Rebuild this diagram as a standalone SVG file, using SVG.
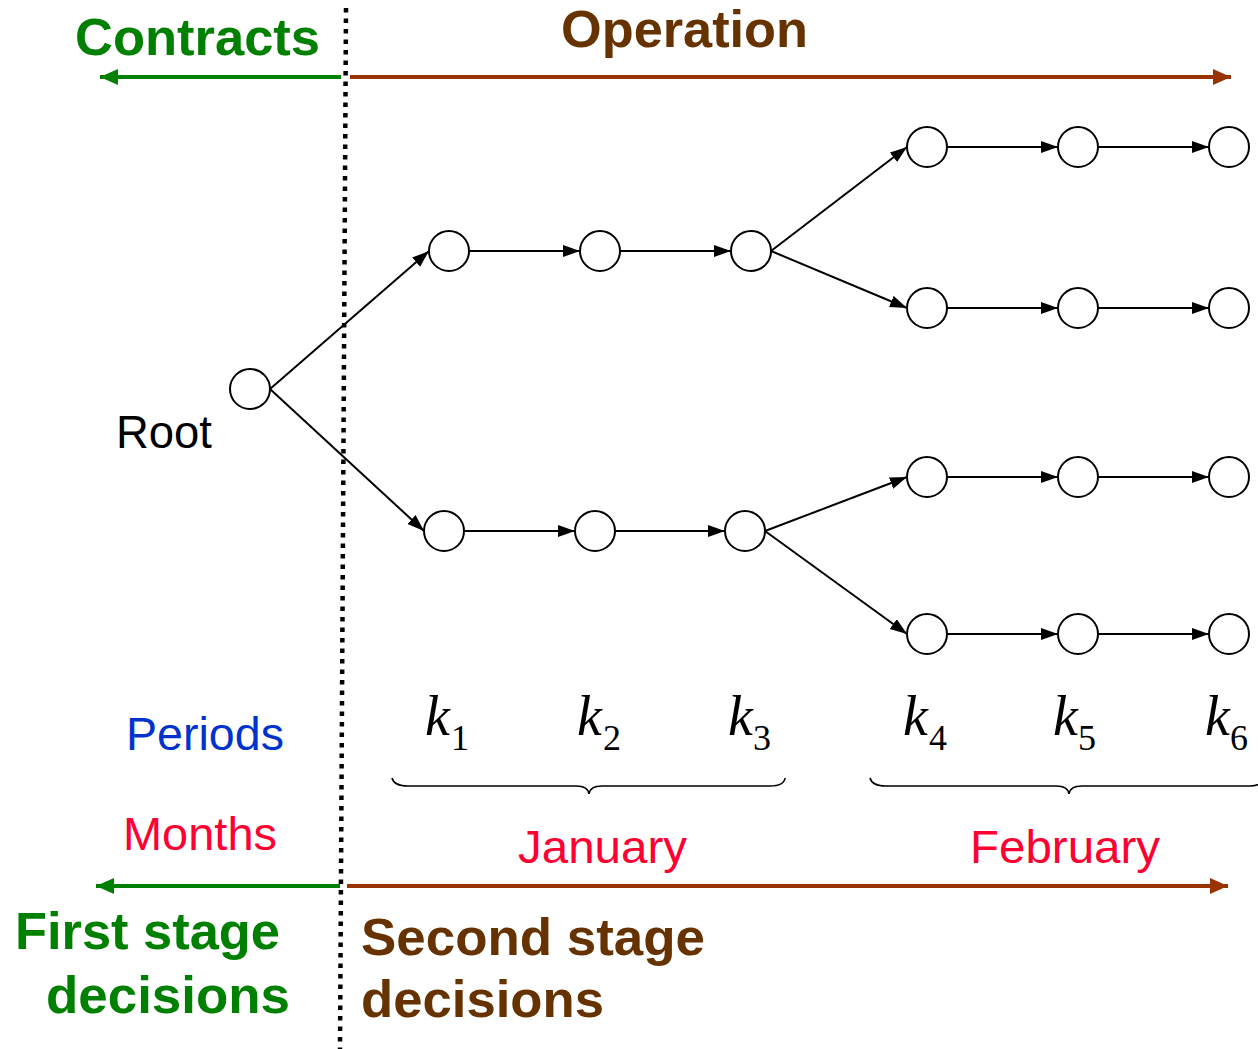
<svg xmlns="http://www.w3.org/2000/svg" width="1258" height="1049" viewBox="0 0 1258 1049">
<defs>
<style>
.node{fill:#fff;stroke:#000;stroke-width:2}
.edge{stroke:#000;stroke-width:2;fill:none;marker-end:url(#ah)}
.bold{font-family:"Liberation Sans",Arial,sans-serif;font-weight:bold;font-size:52px}
.reg{font-family:"Liberation Sans",Arial,sans-serif;font-size:46px}
.k{font-family:"Liberation Serif","Times New Roman",serif;font-style:italic;font-size:56px;fill:#000}
.sub{font-family:"Liberation Serif","Times New Roman",serif;font-size:36px;fill:#000}
.brace{fill:none;stroke:#000;stroke-width:1.6}
</style>
<marker id="ah" markerUnits="userSpaceOnUse" markerWidth="18" markerHeight="14" refX="17" refY="6" orient="auto">
<path d="M0,0 L17,6 L0,12 Z" fill="#000"/>
</marker>
<marker id="ahg" markerUnits="userSpaceOnUse" markerWidth="20" markerHeight="18" refX="18" refY="8" orient="auto">
<path d="M0,0 L18,8 L0,16 Z" fill="#008000"/>
</marker>
<marker id="ahb" markerUnits="userSpaceOnUse" markerWidth="20" markerHeight="18" refX="18" refY="8" orient="auto">
<path d="M0,0 L18,8 L0,16 Z" fill="#993300"/>
</marker>
</defs>
<rect width="1258" height="1049" fill="#fff"/>

<g id="axes">
<line x1="341" y1="77" x2="100" y2="77" stroke="#008000" stroke-width="4" marker-end="url(#ahg)"/>
<line x1="350" y1="77" x2="1231" y2="77" stroke="#993300" stroke-width="4" marker-end="url(#ahb)"/>
<line x1="340" y1="886" x2="96" y2="886" stroke="#008000" stroke-width="4" marker-end="url(#ahg)"/>
<line x1="347" y1="886" x2="1228" y2="886" stroke="#993300" stroke-width="4" marker-end="url(#ahb)"/>
<line x1="346" y1="8" x2="340" y2="1049" stroke="#000" stroke-width="4.5" stroke-dasharray="4.5 6"/>
</g>

<g id="connectors">
<line class="edge" x1="270" y1="389" x2="429" y2="251"/>
<line class="edge" x1="270" y1="389" x2="424" y2="531"/>
<line class="edge" x1="469" y1="251" x2="580" y2="251"/>
<line class="edge" x1="620" y1="251" x2="731" y2="251"/>
<line class="edge" x1="771" y1="251" x2="907" y2="147"/>
<line class="edge" x1="771" y1="251" x2="907" y2="308"/>
<line class="edge" x1="947" y1="147" x2="1058" y2="147"/>
<line class="edge" x1="1098" y1="147" x2="1209" y2="147"/>
<line class="edge" x1="947" y1="308" x2="1058" y2="308"/>
<line class="edge" x1="1098" y1="308" x2="1209" y2="308"/>
<line class="edge" x1="464" y1="531" x2="575" y2="531"/>
<line class="edge" x1="615" y1="531" x2="725" y2="531"/>
<line class="edge" x1="765" y1="531" x2="907" y2="477"/>
<line class="edge" x1="765" y1="531" x2="907" y2="634"/>
<line class="edge" x1="947" y1="477" x2="1058" y2="477"/>
<line class="edge" x1="1098" y1="477" x2="1209" y2="477"/>
<line class="edge" x1="947" y1="634" x2="1058" y2="634"/>
<line class="edge" x1="1098" y1="634" x2="1209" y2="634"/>
</g>

<g id="root"><circle class="node" cx="250" cy="389" r="20"/></g>
<g id="n1a"><circle class="node" cx="449" cy="251" r="20"/></g>
<g id="n2a"><circle class="node" cx="600" cy="251" r="20"/></g>
<g id="n3a"><circle class="node" cx="751" cy="251" r="20"/></g>
<g id="n1b"><circle class="node" cx="444" cy="531" r="20"/></g>
<g id="n2b"><circle class="node" cx="595" cy="531" r="20"/></g>
<g id="n3b"><circle class="node" cx="745" cy="531" r="20"/></g>
<g id="n4a"><circle class="node" cx="927" cy="147" r="20"/></g>
<g id="n5a"><circle class="node" cx="1078" cy="147" r="20"/></g>
<g id="n6a"><circle class="node" cx="1229" cy="147" r="20"/></g>
<g id="n4b"><circle class="node" cx="927" cy="308" r="20"/></g>
<g id="n5b"><circle class="node" cx="1078" cy="308" r="20"/></g>
<g id="n6b"><circle class="node" cx="1229" cy="308" r="20"/></g>
<g id="n4c"><circle class="node" cx="927" cy="477" r="20"/></g>
<g id="n5c"><circle class="node" cx="1078" cy="477" r="20"/></g>
<g id="n6c"><circle class="node" cx="1229" cy="477" r="20"/></g>
<g id="n4d"><circle class="node" cx="927" cy="634" r="20"/></g>
<g id="n5d"><circle class="node" cx="1078" cy="634" r="20"/></g>
<g id="n6d"><circle class="node" cx="1229" cy="634" r="20"/></g>

<g id="labels">
<text class="bold" x="75" y="55" fill="#008000" textLength="245" lengthAdjust="spacingAndGlyphs">Contracts</text>
<text class="bold" x="561" y="47" fill="#663300" textLength="247" lengthAdjust="spacingAndGlyphs">Operation</text>
<text x="116" y="448" font-family="Liberation Sans,Arial,sans-serif" font-size="46" fill="#000" textLength="96" lengthAdjust="spacingAndGlyphs">Root</text>
<text class="reg" x="126" y="750" fill="#0033CC" textLength="158" lengthAdjust="spacingAndGlyphs">Periods</text>
<text class="reg" x="123" y="850" fill="#FF0033" textLength="154" lengthAdjust="spacingAndGlyphs">Months</text>
<text class="reg" x="518" y="863" font-size="47" fill="#FF0033" textLength="169" lengthAdjust="spacingAndGlyphs">January</text>
<text class="reg" x="970" y="863" font-size="47" fill="#FF0033" textLength="190" lengthAdjust="spacingAndGlyphs">February</text>
<text class="bold" x="15" y="949" fill="#008000" textLength="265" lengthAdjust="spacingAndGlyphs">First stage</text>
<text class="bold" x="46" y="1013" fill="#008000" textLength="244" lengthAdjust="spacingAndGlyphs">decisions</text>
<text class="bold" x="361" y="955" fill="#663300" textLength="344" lengthAdjust="spacingAndGlyphs">Second stage</text>
<text class="bold" x="361" y="1017" fill="#663300" textLength="243" lengthAdjust="spacingAndGlyphs">decisions</text>
</g>

<g id="periods">
<text class="k" x="425" y="735">k</text><text class="sub" x="451" y="750">1</text>
<text class="k" x="577" y="735">k</text><text class="sub" x="603" y="750">2</text>
<text class="k" x="728" y="735">k</text><text class="sub" x="753" y="750">3</text>
<text class="k" x="903" y="735">k</text><text class="sub" x="929" y="750">4</text>
<text class="k" x="1053" y="735">k</text><text class="sub" x="1078" y="750">5</text>
<text class="k" x="1205" y="735">k</text><text class="sub" x="1230" y="750">6</text>
<path class="brace" d="M392,778 Q394,786 408,786 L576,786 Q588,786 589,794 Q590,786 602,786 L770,786 Q784,786 785,778"/>
<path class="brace" d="M870,778 Q872,786 886,786 L1056,786 Q1068,786 1069,794 Q1070,786 1082,786 L1250,786 Q1262,786 1264,778"/>
</g>
</svg>
